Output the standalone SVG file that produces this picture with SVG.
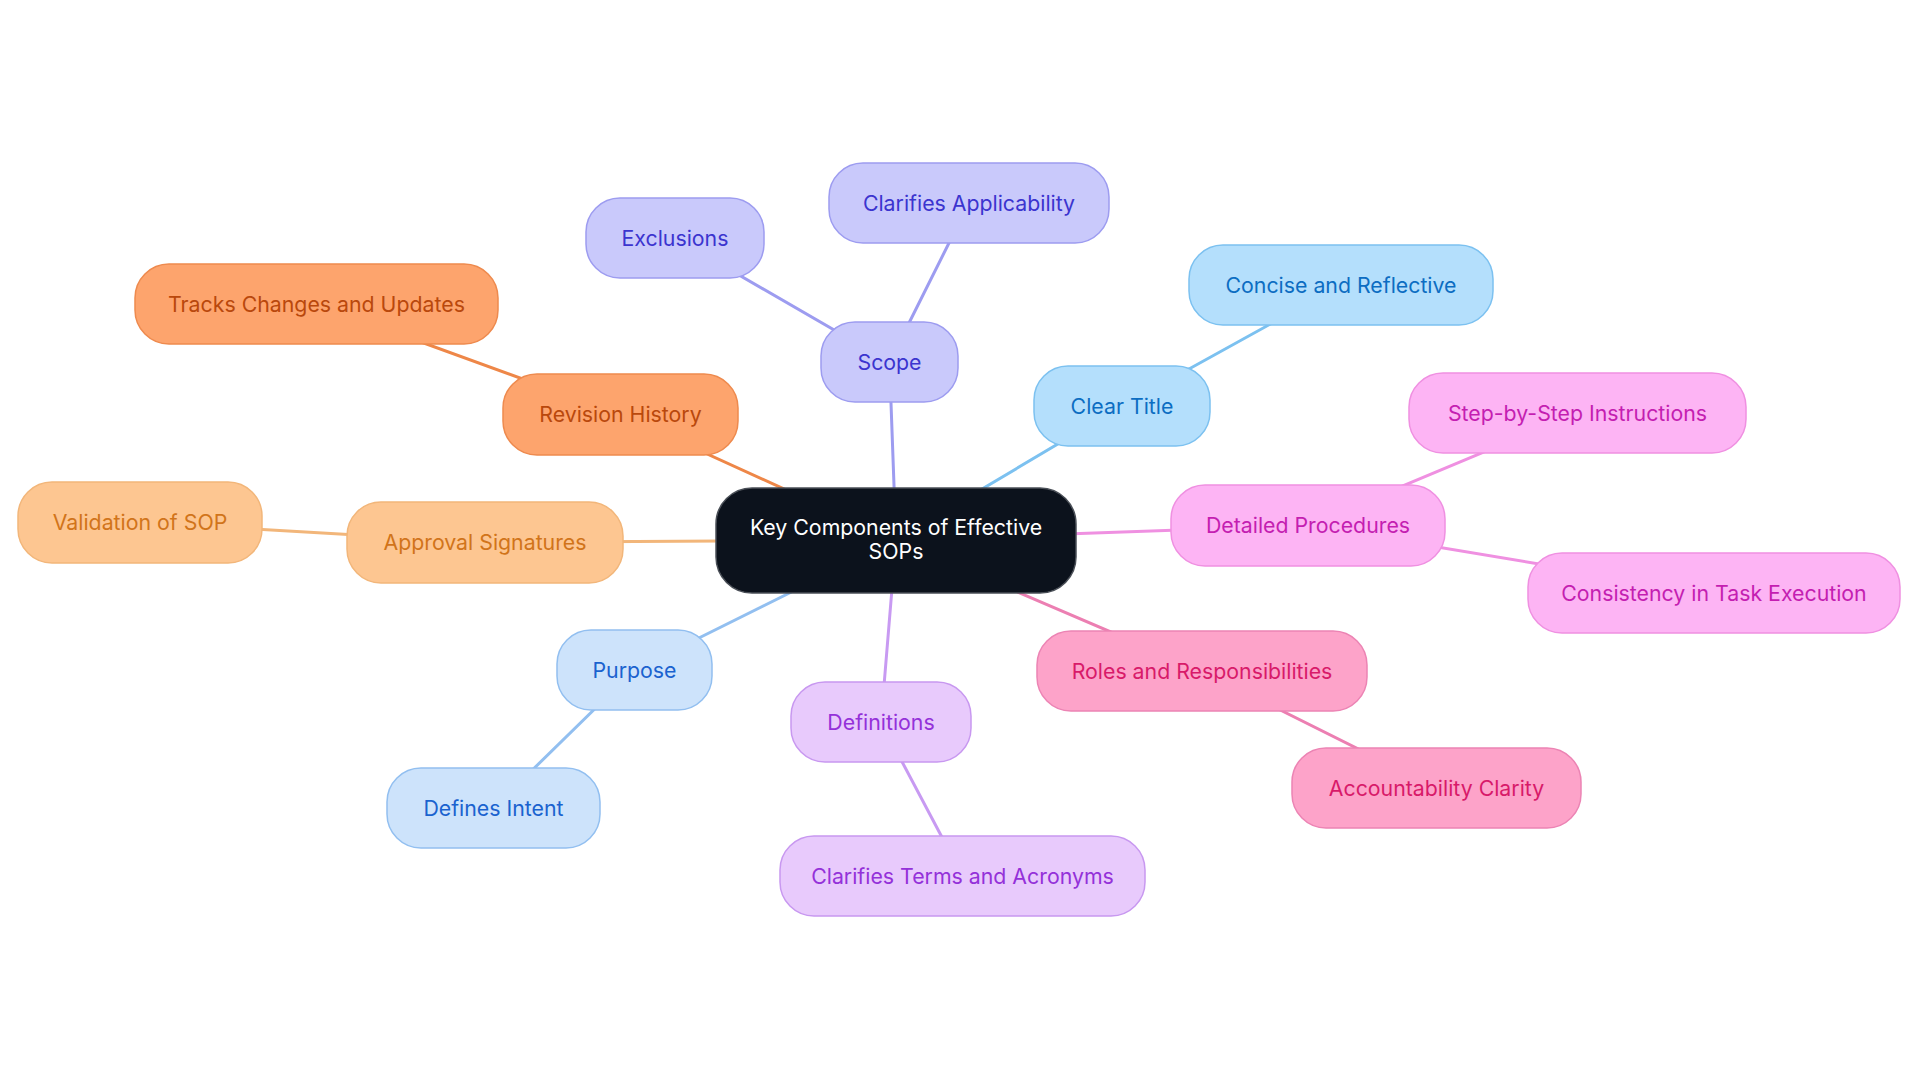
<svg xmlns="http://www.w3.org/2000/svg" width="1920" height="1083" viewBox="0 0 1920 1083">
<style>
text{font-family:Inter,"Noto Sans","Liberation Sans",sans-serif;font-size:21.3px;text-anchor:middle}
.e{stroke-width:3;fill:none;stroke-linecap:round}
.n{stroke-width:1.5}
.violet rect{fill:#c9c9fb;stroke:#9d9cf0}.violet text{fill:#3b34cf}
.sky rect{fill:#b4dffc;stroke:#7cc1f0}.sky text{fill:#0c6dc2}
.mag rect{fill:#fdb4f4;stroke:#ef90e1}.mag text{fill:#c41eb1}
.pink rect{fill:#fda3c9;stroke:#ec84b4}.pink text{fill:#d81a69}
.purp rect{fill:#e8cafc;stroke:#c898f0}.purp text{fill:#9431d9}
.blue rect{fill:#cde3fb;stroke:#92bff0}.blue text{fill:#1a62cf}
.amber rect{fill:#fdc691;stroke:#f2b67a}.amber text{fill:#d1741a}
.orng rect{fill:#fda46d;stroke:#ee8a4e}.orng text{fill:#b9480c}
</style>
<rect width="1920" height="1083" fill="#ffffff"/>
<g id="connectors">
<line class="e" x1="896" y1="540" x2="889.5" y2="362" stroke="#9d9cf0"/>
<line class="e" x1="889.5" y1="362" x2="675" y2="238" stroke="#9d9cf0"/>
<line class="e" x1="889.5" y1="362" x2="969" y2="203" stroke="#9d9cf0"/>
<line class="e" x1="896" y1="540" x2="1122" y2="406" stroke="#7cc1f0"/>
<line class="e" x1="1122" y1="406" x2="1341" y2="285" stroke="#7cc1f0"/>
<line class="e" x1="896" y1="540" x2="1308" y2="525.5" stroke="#ef90e1"/>
<line class="e" x1="1308" y1="525.5" x2="1577.5" y2="413" stroke="#ef90e1"/>
<line class="e" x1="1308" y1="525.5" x2="1714" y2="593" stroke="#ef90e1"/>
<line class="e" x1="896" y1="540" x2="1202" y2="671" stroke="#ec7fb2"/>
<line class="e" x1="1202" y1="671" x2="1436.5" y2="788" stroke="#ec7fb2"/>
<line class="e" x1="896" y1="540" x2="881" y2="722" stroke="#c89af2"/>
<line class="e" x1="881" y1="722" x2="962.5" y2="876" stroke="#c89af2"/>
<line class="e" x1="896" y1="540" x2="634.5" y2="670" stroke="#92bff0"/>
<line class="e" x1="634.5" y1="670" x2="493.5" y2="808" stroke="#92bff0"/>
<line class="e" x1="896" y1="540" x2="485" y2="542.5" stroke="#f2b67a"/>
<line class="e" x1="485" y1="542.5" x2="140" y2="522.5" stroke="#f2b67a"/>
<line class="e" x1="896" y1="540" x2="620.5" y2="414.5" stroke="#ee8748"/>
<line class="e" x1="620.5" y1="414.5" x2="316.5" y2="304" stroke="#ee8748"/>
</g>
<g id="center">
<rect x="716" y="488" width="360" height="105" rx="36" fill="#0c121c" stroke="#4a4f57" stroke-width="1.5"/>
<text x="896" y="535" fill="#ffffff">Key Components of Effective</text>
<text x="896" y="559" fill="#ffffff">SOPs</text>
</g>
<g id="scope" class="violet"><rect class="n" x="821" y="322" width="137" height="80" rx="34"/><text x="889.5" y="369.5">Scope</text></g>
<g id="exclusions" class="violet"><rect class="n" x="586" y="198" width="178" height="80" rx="34"/><text x="675" y="245.5">Exclusions</text></g>
<g id="clarifies-applicability" class="violet"><rect class="n" x="829" y="163" width="280" height="80" rx="34"/><text x="969" y="210.5">Clarifies Applicability</text></g>
<g id="clear-title" class="sky"><rect class="n" x="1034" y="366" width="176" height="80" rx="34"/><text x="1122" y="413.5">Clear Title</text></g>
<g id="concise" class="sky"><rect class="n" x="1189" y="245" width="304" height="80" rx="34"/><text x="1341" y="292.5">Concise and Reflective</text></g>
<g id="detailed" class="mag"><rect class="n" x="1171" y="485" width="274" height="81" rx="34"/><text x="1308" y="532.5">Detailed Procedures</text></g>
<g id="step" class="mag"><rect class="n" x="1409" y="373" width="337" height="80" rx="34"/><text x="1577.5" y="420.5">Step-by-Step Instructions</text></g>
<g id="consistency" class="mag"><rect class="n" x="1528" y="553" width="372" height="80" rx="34"/><text x="1714" y="600.5">Consistency in Task Execution</text></g>
<g id="roles" class="pink"><rect class="n" x="1037" y="631" width="330" height="80" rx="34"/><text x="1202" y="678.5">Roles and Responsibilities</text></g>
<g id="accountability" class="pink"><rect class="n" x="1292" y="748" width="289" height="80" rx="34"/><text x="1436.5" y="795.5">Accountability Clarity</text></g>
<g id="definitions" class="purp"><rect class="n" x="791" y="682" width="180" height="80" rx="34"/><text x="881" y="729.5">Definitions</text></g>
<g id="clarifies-terms" class="purp"><rect class="n" x="780" y="836" width="365" height="80" rx="34"/><text x="962.5" y="883.5">Clarifies Terms and Acronyms</text></g>
<g id="purpose" class="blue"><rect class="n" x="557" y="630" width="155" height="80" rx="34"/><text x="634.5" y="677.5">Purpose</text></g>
<g id="defines-intent" class="blue"><rect class="n" x="387" y="768" width="213" height="80" rx="34"/><text x="493.5" y="815.5">Defines Intent</text></g>
<g id="approval" class="amber"><rect class="n" x="347" y="502" width="276" height="81" rx="34"/><text x="485" y="549.5">Approval Signatures</text></g>
<g id="validation" class="amber"><rect class="n" x="18" y="482" width="244" height="81" rx="34"/><text x="140" y="529.5">Validation of SOP</text></g>
<g id="revision" class="orng"><rect class="n" x="503" y="374" width="235" height="81" rx="34"/><text x="620.5" y="421.5">Revision History</text></g>
<g id="tracks" class="orng"><rect class="n" x="135" y="264" width="363" height="80" rx="34"/><text x="316.5" y="311.5">Tracks Changes and Updates</text></g>
</svg>
